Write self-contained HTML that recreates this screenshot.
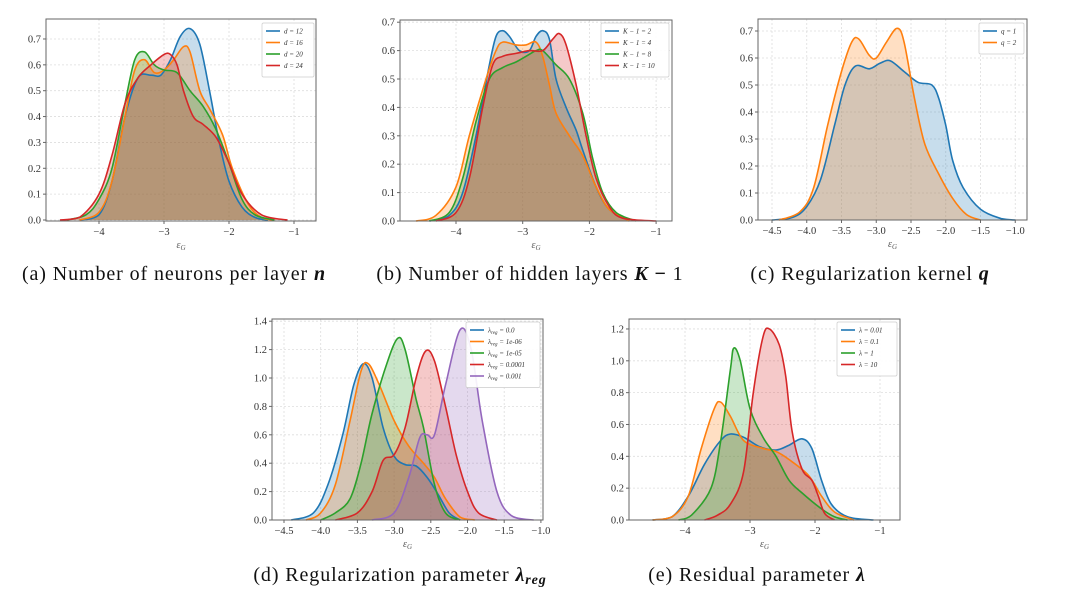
<!DOCTYPE html>
<html><head><meta charset="utf-8"><style>
html,body{margin:0;padding:0;background:#fff;}
svg{display:block;font-family:"Liberation Serif",serif;}
</style></head><body>
<svg id="s" width="1080" height="598" xmlns="http://www.w3.org/2000/svg"></svg>
<script>
const NS="http://www.w3.org/2000/svg";const S=document.getElementById('s');
function el(t,a,p){const e=document.createElementNS(NS,t);for(const k in a)e.setAttribute(k,a[k]);(p||S).appendChild(e);return e;}
const C={b:'#1f77b4',o:'#ff7f0e',g:'#2ca02c',r:'#d62728',p:'#9467bd'};
function crPath(P){let d='M'+P[0][0].toFixed(1)+','+P[0][1].toFixed(1);
 for(let i=0;i<P.length-1;i++){const p0=P[Math.max(i-1,0)],p1=P[i],p2=P[i+1],p3=P[Math.min(i+2,P.length-1)];
  const c1=[p1[0]+(p2[0]-p0[0])/6,p1[1]+(p2[1]-p0[1])/6],c2=[p2[0]-(p3[0]-p1[0])/6,p2[1]-(p3[1]-p1[1])/6];
  c1[1]=Math.min(c1[1],P.base);c2[1]=Math.min(c2[1],P.base);
  d+='C'+c1.map(v=>v.toFixed(1))+' '+c2.map(v=>v.toFixed(1))+' '+p2.map(v=>v.toFixed(1));}
 return d;}
function panel(P){
 const X=v=>P.x0px+(v-P.x0)*P.xs, Y=v=>P.y0px-v*P.ys;
 for(const t of P.xt){el('line',{x1:X(t),x2:X(t),y1:P.top,y2:P.bot,stroke:'#ddd','stroke-dasharray':'2,2','stroke-width':0.8});}
 for(const t of P.yt){el('line',{x1:P.left,x2:P.right,y1:Y(t),y2:Y(t),stroke:'#ddd','stroke-dasharray':'2,2','stroke-width':0.8});}
 for(const s of P.ser){
  const pts=s.c.map(p=>[X(p[0]),Y(p[1])]);pts.base=Y(0);
  const d=crPath(pts);s.d=d;
  el('path',{d:d+'Z',fill:C[s.col],'fill-opacity':0.25,stroke:'none'});
 }
 for(const s of P.ser)el('path',{d:s.d,fill:'none',stroke:C[s.col],'stroke-width':1.6});
 el('rect',{x:P.left,y:P.top,width:P.right-P.left,height:P.bot-P.top,fill:'none',stroke:'#666','stroke-width':1});
 for(const t of P.xt){el('line',{x1:X(t),x2:X(t),y1:P.bot,y2:P.bot+3,stroke:'#666'});
  const tx=el('text',{x:X(t),y:P.bot+14,'font-size':10.5,'text-anchor':'middle',fill:'#333'});tx.textContent=(t<0?'−':'')+Math.abs(t).toFixed(P.xd);}
 for(const t of P.yt){el('line',{x1:P.left-3,x2:P.left,y1:Y(t),y2:Y(t),stroke:'#666'});
  const tx=el('text',{x:P.left-5,y:Y(t)+3.5,'font-size':10.5,'text-anchor':'end',fill:'#333'});tx.textContent=t.toFixed(1);}
 const xl=el('text',{x:(P.left+P.right)/2,y:P.bot+27,'font-size':10,'font-style':'italic','text-anchor':'middle',fill:'#555'});xl.innerHTML='ε<tspan font-size="7" dy="2">G</tspan>';
 const L=P.leg;el('rect',{x:L.x,y:L.y,width:L.w,height:8+11.5*P.ser.length,fill:'#fff','fill-opacity':0.9,stroke:'#ccc','stroke-width':0.7,rx:1.5});
 P.ser.forEach((s,i)=>{const yy=L.y+8+11.5*i;el('line',{x1:L.x+4,x2:L.x+18,y1:yy,y2:yy,stroke:C[s.col],'stroke-width':1.6});
  const t=el('text',{x:L.x+22,y:yy+2.5,'font-size':7,fill:'#333','font-style':'italic'});t.innerHTML=s.l;});
 const cap=el('text',{x:P.capx,y:P.capy,'font-size':20,'letter-spacing':0.9,'text-anchor':'middle',fill:'#111'});cap.innerHTML=P.cap;
}
const sub='<tspan font-size="5" dy="1.5">reg</tspan><tspan dy="-1.5">';
panel({left:46,right:316,top:19,bot:221,x0:-4,x0px:99,xs:65,y0px:220,ys:258.6,xt:[-4,-3,-2,-1],yt:[0,.1,.2,.3,.4,.5,.6,.7],xd:0,
 leg:{x:262,y:23,w:52},capx:174,capy:280,cap:'(a) Number of neurons per layer <tspan font-weight="bold" font-style="italic">n</tspan>',
 ser:[{col:'b',l:'d = 12',c:[[-4.3,0],[-4.0,0.02],[-3.8,0.15],[-3.6,0.4],[-3.4,0.55],[-3.2,0.56],[-3.05,0.56],[-2.9,0.62],[-2.75,0.71],[-2.6,0.74],[-2.45,0.68],[-2.3,0.5],[-2.15,0.3],[-2.0,0.15],[-1.8,0.05],[-1.6,0.01],[-1.4,0]]},
 {col:'o',l:'d = 16',c:[[-4.3,0],[-4.0,0.03],[-3.8,0.15],[-3.6,0.4],[-3.45,0.58],[-3.3,0.62],[-3.15,0.57],[-3.0,0.58],[-2.85,0.62],[-2.7,0.67],[-2.6,0.65],[-2.45,0.5],[-2.3,0.43],[-2.1,0.33],[-1.95,0.2],[-1.7,0.06],[-1.5,0.01],[-1.3,0]]},
 {col:'g',l:'d = 20',c:[[-4.5,0],[-4.2,0.02],[-4.0,0.08],[-3.8,0.2],[-3.6,0.45],[-3.45,0.62],[-3.3,0.65],[-3.15,0.6],[-3.0,0.58],[-2.8,0.57],[-2.6,0.5],[-2.4,0.44],[-2.2,0.35],[-2.0,0.22],[-1.8,0.08],[-1.6,0.02],[-1.3,0]]},
 {col:'r',l:'d = 24',c:[[-4.6,0],[-4.3,0.01],[-4.0,0.1],[-3.8,0.25],[-3.6,0.45],[-3.4,0.55],[-3.2,0.6],[-3.0,0.64],[-2.9,0.64],[-2.8,0.6],[-2.7,0.5],[-2.55,0.4],[-2.4,0.37],[-2.2,0.32],[-2.0,0.22],[-1.8,0.1],[-1.5,0.02],[-1.1,0]]}]});
panel({left:400,right:672,top:20,bot:221,x0:-4,x0px:456,xs:66.7,y0px:221,ys:284,xt:[-4,-3,-2,-1],yt:[0,.1,.2,.3,.4,.5,.6,.7],xd:0,
 leg:{x:601,y:23,w:68},capx:530,capy:280,cap:'(b) Number of hidden layers <tspan font-weight="bold" font-style="italic">K</tspan> <tspan font-weight="bold">−</tspan> 1',
 ser:[{col:'b',l:'K − 1 = 2',c:[[-4.4,0],[-4.1,0.02],[-3.9,0.1],[-3.7,0.3],[-3.5,0.55],[-3.4,0.65],[-3.3,0.67],[-3.2,0.65],[-3.05,0.6],[-2.9,0.6],[-2.8,0.65],[-2.7,0.67],[-2.6,0.64],[-2.5,0.5],[-2.35,0.4],[-2.2,0.32],[-2.1,0.25],[-1.9,0.12],[-1.7,0.04],[-1.4,0]]},
 {col:'o',l:'K − 1 = 4',c:[[-4.6,0],[-4.3,0.02],[-4.0,0.12],[-3.8,0.3],[-3.55,0.5],[-3.4,0.6],[-3.3,0.63],[-3.1,0.62],[-2.95,0.62],[-2.8,0.63],[-2.7,0.58],[-2.6,0.48],[-2.5,0.38],[-2.3,0.3],[-2.1,0.23],[-1.9,0.12],[-1.7,0.04],[-1.4,0]]},
 {col:'g',l:'K − 1 = 8',c:[[-4.4,0],[-4.1,0.03],[-3.9,0.15],[-3.7,0.35],[-3.5,0.5],[-3.3,0.54],[-3.1,0.56],[-2.95,0.58],[-2.8,0.6],[-2.7,0.6],[-2.5,0.55],[-2.3,0.5],[-2.1,0.38],[-1.95,0.22],[-1.8,0.1],[-1.6,0.03],[-1.3,0]]},
 {col:'r',l:'K − 1 = 10',c:[[-4.3,0],[-4.0,0.03],[-3.8,0.15],[-3.6,0.4],[-3.45,0.55],[-3.3,0.58],[-3.1,0.59],[-2.9,0.6],[-2.7,0.6],[-2.55,0.64],[-2.45,0.66],[-2.35,0.62],[-2.2,0.48],[-2.05,0.3],[-1.9,0.15],[-1.7,0.05],[-1.5,0.01],[-1.0,0]]}]});
panel({left:758,right:1027,top:19,bot:220,x0:-4.5,x0px:772,xs:69.5,y0px:220,ys:270,xt:[-4.5,-4,-3.5,-3,-2.5,-2,-1.5,-1],yt:[0,.1,.2,.3,.4,.5,.6,.7],xd:1,
 leg:{x:979,y:23,w:45},capx:870,capy:280,cap:'(c) Regularization kernel <tspan font-weight="bold" font-style="italic">q</tspan>',
 ser:[{col:'b',l:'q = 1',c:[[-4.5,0],[-4.2,0.01],[-4.0,0.05],[-3.8,0.15],[-3.6,0.35],[-3.45,0.5],[-3.3,0.57],[-3.1,0.56],[-2.95,0.58],[-2.8,0.59],[-2.6,0.55],[-2.4,0.51],[-2.2,0.5],[-2.1,0.45],[-2.0,0.35],[-1.9,0.22],[-1.75,0.12],[-1.5,0.04],[-1.2,0.005],[-1.0,0]]},
 {col:'o',l:'q = 2',c:[[-4.4,0],[-4.1,0.03],[-3.9,0.12],[-3.7,0.35],[-3.5,0.55],[-3.35,0.66],[-3.25,0.67],[-3.1,0.61],[-3.0,0.6],[-2.85,0.66],[-2.7,0.71],[-2.6,0.66],[-2.45,0.45],[-2.3,0.28],[-2.1,0.17],[-1.9,0.08],[-1.7,0.02],[-1.5,0]]}]});
panel({left:272,right:543,top:319,bot:520,x0:-4.5,x0px:284,xs:73.4,y0px:520,ys:142,xt:[-4.5,-4,-3.5,-3,-2.5,-2,-1.5,-1],yt:[0,.2,.4,.6,.8,1.0,1.2,1.4],xd:1,
 leg:{x:466,y:322,w:74},capx:400,capy:581,cap:'(d) Regularization parameter <tspan font-weight="bold" font-style="italic">λ<tspan font-size="14" dy="3">reg</tspan></tspan>',
 ser:[{col:'b',l:'λ'+sub+' = 0.0</tspan>',c:[[-4.4,0],[-4.1,0.05],[-3.9,0.25],[-3.7,0.6],[-3.55,0.95],[-3.42,1.1],[-3.3,1.0],[-3.15,0.65],[-3.0,0.45],[-2.85,0.39],[-2.7,0.38],[-2.55,0.3],[-2.4,0.18],[-2.25,0.05],[-2.1,0]]},
 {col:'o',l:'λ'+sub+' = 1e-06</tspan>',c:[[-4.2,0],[-4.0,0.05],[-3.8,0.25],[-3.6,0.7],[-3.45,1.05],[-3.35,1.1],[-3.2,0.95],[-3.0,0.7],[-2.8,0.52],[-2.6,0.4],[-2.45,0.3],[-2.3,0.15],[-2.1,0.02],[-1.9,0]]},
 {col:'g',l:'λ'+sub+' = 1e-05</tspan>',c:[[-4.0,0],[-3.8,0.05],[-3.6,0.15],[-3.45,0.4],[-3.3,0.75],[-3.1,1.1],[-2.95,1.28],[-2.85,1.2],[-2.7,0.85],[-2.6,0.65],[-2.45,0.25],[-2.3,0.05],[-2.1,0]]},
 {col:'r',l:'λ'+sub+' = 0.0001</tspan>',c:[[-3.8,0],[-3.5,0.05],[-3.3,0.2],[-3.15,0.42],[-3.0,0.46],[-2.85,0.65],[-2.7,1.0],[-2.57,1.19],[-2.45,1.12],[-2.3,0.8],[-2.15,0.45],[-2.0,0.2],[-1.85,0.05],[-1.6,0]]},
 {col:'p',l:'λ'+sub+' = 0.001</tspan>',c:[[-3.3,0],[-3.0,0.05],[-2.8,0.3],[-2.65,0.58],[-2.55,0.6],[-2.45,0.6],[-2.3,0.95],[-2.1,1.34],[-1.95,1.2],[-1.8,0.7],[-1.6,0.2],[-1.4,0.03],[-1.1,0]]}]});
panel({left:629,right:900,top:319,bot:520,x0:-4,x0px:685,xs:65,y0px:520,ys:159.2,xt:[-4,-3,-2,-1],yt:[0,.2,.4,.6,.8,1.0,1.2],xd:0,
 leg:{x:837,y:322,w:60},capx:757,capy:581,cap:'(e) Residual parameter <tspan font-weight="bold" font-style="italic">λ</tspan>',
 ser:[{col:'b',l:'λ = 0.01',c:[[-4.5,0],[-4.2,0.02],[-3.95,0.15],[-3.7,0.35],[-3.45,0.5],[-3.3,0.54],[-3.1,0.52],[-2.85,0.46],[-2.6,0.44],[-2.4,0.47],[-2.2,0.51],[-2.05,0.45],[-1.9,0.25],[-1.75,0.1],[-1.5,0.02],[-1.1,0]]},
 {col:'o',l:'λ = 0.1',c:[[-4.5,0],[-4.2,0.02],[-3.95,0.15],[-3.75,0.45],[-3.55,0.7],[-3.45,0.74],[-3.3,0.65],[-3.1,0.5],[-2.8,0.45],[-2.6,0.43],[-2.4,0.38],[-2.1,0.28],[-1.9,0.15],[-1.7,0.05],[-1.4,0]]},
 {col:'g',l:'λ = 1',c:[[-4.1,0],[-3.9,0.03],[-3.6,0.2],[-3.45,0.5],[-3.3,0.95],[-3.25,1.08],[-3.15,1.0],[-3.0,0.7],[-2.8,0.52],[-2.6,0.4],[-2.4,0.25],[-2.2,0.17],[-1.9,0.07],[-1.7,0.02],[-1.5,0]]},
 {col:'r',l:'λ = 10',c:[[-3.7,0],[-3.5,0.03],[-3.3,0.1],[-3.1,0.3],[-2.95,0.8],[-2.8,1.15],[-2.7,1.2],[-2.55,1.1],[-2.45,0.9],[-2.35,0.55],[-2.2,0.32],[-2.05,0.25],[-1.95,0.15],[-1.85,0.04],[-1.7,0]]}]});
</script>
</body></html>
